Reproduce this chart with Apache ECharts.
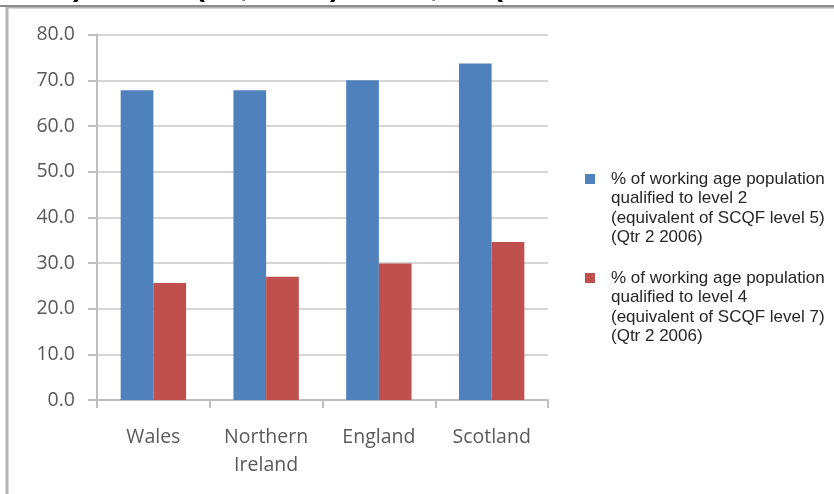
<!DOCTYPE html>
<html>
<head>
<meta charset="utf-8">
<script src="https://cdn.jsdelivr.net/npm/echarts@6/dist/echarts.min.js"></script>
<style>
  html, body { margin: 0; padding: 0; background: #ffffff; }
  #chart { width: 834px; height: 494px; }
</style>
</head>
<body>
<div id="chart"></div>
<script>
// Countries on the x axis
var countries = ['Wales', 'Northern\nIreland', 'England', 'Scotland'];

// Series names (shown in the legend)
var level2Name = '% of working age population\nqualified to level 2\n(equivalent of SCQF level 5)\n(Qtr 2 2006)';
var level4Name = '% of working age population\nqualified to level 4\n(equivalent of SCQF level 7)\n(Qtr 2 2006)';

// Percent of working age population, Qtr 2 2006
var level2Values = [67.8, 67.8, 70.0, 73.7];
var level4Values = [25.6, 27.0, 29.9, 34.6];

// Value axis ticks
var yMin = 0, yMax = 80, yStep = 10;

// Heading line above the panel, mostly hidden by the panel edge
var headingPieces = [
  { t: ')', x: 73 }, { t: '(', x: 195 }, { t: ',', x: 240 },
  { t: ')', x: 330 }, { t: ',', x: 430 }, { t: '(', x: 493 }
];

var LINE_H = 19.5;
var axisFont = '"Open Sans", "DejaVu Sans", sans-serif';
var legendFont = '"Liberation Sans", Arial, sans-serif';

// One legend block per series; three blank lines above the name keep the
// swatch level with the first line of the (vertically centred) label.
function legendBlock(name, swatchY) {
  return {
    data: [name],
    orient: 'vertical',
    left: 585,
    top: swatchY - LINE_H * 3.5,
    padding: 0,
    itemWidth: 10,
    itemHeight: 10,
    icon: 'rect',
    selectedMode: false,
    formatter: function (n) { return '\n\n\n' + n; },
    textStyle: {
      fontFamily: legendFont,
      fontSize: 17,
      lineHeight: LINE_H,
      color: '#262626',
      padding: [0, 0, 0, 11]
    }
  };
}

var chart = echarts.init(document.getElementById('chart'), null, { renderer: 'canvas' });

chart.setOption({
  backgroundColor: '#ffffff',
  animation: false,
  grid: { left: 97, right: 286, top: 34.6, bottom: 94, containLabel: false },
  legend: [legendBlock(level2Name, 179), legendBlock(level4Name, 278)],
  xAxis: {
    type: 'category',
    data: countries,
    axisLine: { lineStyle: { color: '#bfbfbf', width: 2 } },
    axisTick: { show: true, length: 8, lineStyle: { color: '#bfbfbf', width: 2 } },
    axisLabel: {
      margin: 23,
      fontFamily: axisFont,
      fontSize: 19.5,
      lineHeight: 28,
      color: '#595959'
    }
  },
  yAxis: {
    type: 'value',
    min: yMin,
    max: yMax,
    interval: yStep,
    axisLine: { show: true, lineStyle: { color: '#bfbfbf', width: 2 } },
    axisTick: { show: true, length: 9, lineStyle: { color: '#bfbfbf', width: 2 } },
    splitLine: { lineStyle: { color: '#d6d6d6', width: 2 } },
    axisLabel: {
      margin: 22,
      fontFamily: axisFont,
      fontSize: 19.5,
      color: '#595959',
      formatter: function (v) { return v.toFixed(1); }
    }
  },
  series: [
    {
      name: level2Name,
      type: 'bar',
      data: level2Values,
      barGap: '0%',
      barCategoryGap: '42%',
      itemStyle: { color: '#4f81bd' }
    },
    {
      name: level4Name,
      type: 'bar',
      data: level4Values,
      barGap: '0%',
      barCategoryGap: '42%',
      itemStyle: { color: '#c0504d' }
    }
  ],
  graphic: headingPieces.map(function (p) {
    return {
      type: 'text',
      x: p.x,
      y: -12,
      z: 1,
      style: {
        text: p.t,
        font: 'bold 30px "Liberation Sans", Arial, sans-serif',
        fill: '#000000',
        verticalAlign: 'middle'
      }
    };
  }).concat([
    {
      type: 'rect',
      z: 5,
      shape: { x: 7, y: 7, width: 900, height: 600 },
      style: { fill: 'none', stroke: '#b3b3b3', lineWidth: 3 }
    },
    {
      type: 'line',
      z: 6,
      shape: { x1: 0, y1: 6, x2: 834, y2: 6 },
      style: { stroke: '#8c8c8c', lineWidth: 2 }
    }
  ])
});
</script>
</body>
</html>
